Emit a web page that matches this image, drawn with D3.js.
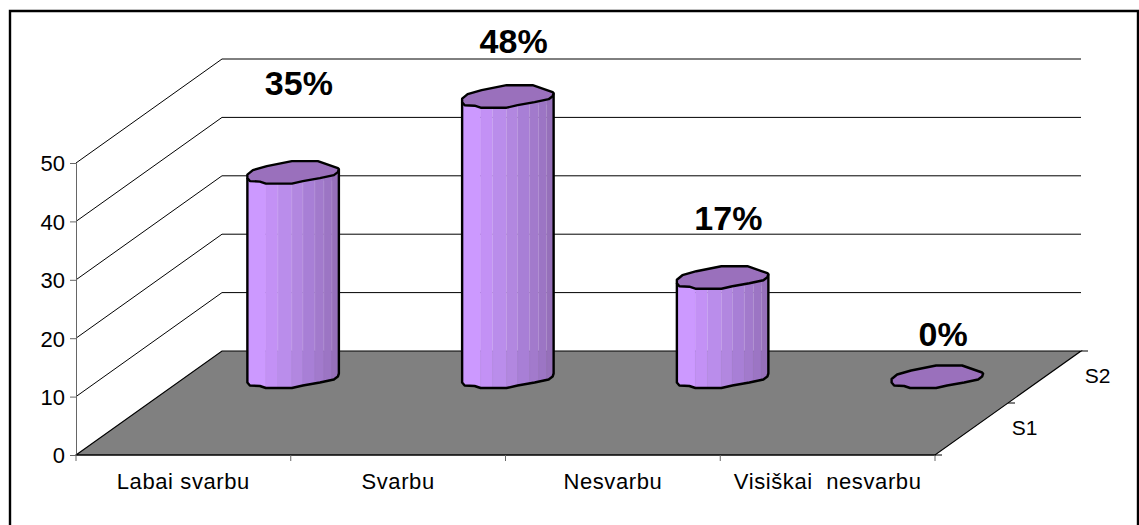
<!DOCTYPE html>
<html><head><meta charset="utf-8">
<script src="https://cdn.jsdelivr.net/npm/d3@7"></script>
<style>html,body{margin:0;padding:0;background:#fff}svg{display:block}text{font-family:"Liberation Sans",Arial,sans-serif;fill:#000}</style>
</head><body><svg id="c" width="1139" height="525"></svg>
<script>
const categories = ["Labai svarbu", "Svarbu", "Nesvarbu", "Visiškai  nesvarbu"];
const seriesNames = ["S1", "S2"];
const s2Values = [35, 48, 17, 0];
const percentLabels = ["35%", "48%", "17%", "0%"];
const valueTicks = [0, 10, 20, 30, 40, 50];

const svg = d3.select("#c");
const x0 = 76, x1 = 935, y0 = 455, y50 = 163, dx = 146, dy = -104;
const labelLift = [77.5, 43.5, 48, 31];
const xBand = d3.scaleBand().domain(categories).range([x0, x1]);
const yVal = d3.scaleLinear().domain([0, 50]).range([y0, y50]);
const depth = d3.scaleBand().domain(seriesNames).range([0, 1]);
const px = (x, z) => x + dx * z;
const py = (y, z) => y + dy * z;
const line = d3.line();

// outer frame (open at the bottom)
svg.append("path").attr("d", "M10,525V11H1138V525").attr("fill", "none").attr("stroke", "#000").attr("stroke-width", 2.4);

// gridlines on side and back walls
valueTicks.slice(1).forEach(v => {
  svg.append("path").attr("fill", "none").attr("stroke", "#000").attr("stroke-width", 1)
    .attr("d", line([[x0, yVal(v)], [px(x0, 1), py(yVal(v), 1)], [px(x1, 1), py(yVal(v), 1)]]));
});

// floor
svg.append("path").attr("fill", "#808080").attr("stroke", "#000").attr("stroke-width", 1.2)
  .attr("d", line([[x0, y0], [px(x0, 1), py(y0, 1)], [px(x1, 1), py(y0, 1)], [x1, y0]]) + "Z");

// value axis
const yAxis = svg.append("g").attr("transform", `translate(${x0},0)`)
  .call(d3.axisLeft(yVal).tickValues(valueTicks).tickSize(6).tickPadding(5));
yAxis.selectAll("path,line").attr("stroke", "#666");
yAxis.selectAll("text").attr("font-size", 22).attr("fill", "#000").attr("dy", "0.36em")
  .style("font-family", '"Liberation Sans"');

// category axis
const xAxis = svg.append("g").attr("transform", `translate(0,${y0})`)
  .call(d3.axisBottom(xBand).tickSize(0).tickPadding(18));
xAxis.select("path").attr("stroke", "#000").attr("d", `M${x0},0H${x1}`);
xAxis.selectAll("text").attr("font-size", 22).attr("fill", "#000").attr("letter-spacing", 0.6)
  .style("white-space", "pre").style("font-family", '"Liberation Sans"');
d3.range(categories.length + 1).forEach(i => {
  svg.append("line").attr("x1", x0 + i * xBand.step()).attr("x2", x0 + i * xBand.step())
    .attr("y1", y0).attr("y2", y0 + 6).attr("stroke", "#666");
});

// depth axis
[0, 0.5, 1].forEach(z => {
  svg.append("line").attr("x1", px(x1, z)).attr("x2", px(x1, z) + 7)
    .attr("y1", py(y0, z)).attr("y2", py(y0, z)).attr("stroke", "#000");
});
svg.selectAll("text.depth").data(seriesNames).join("text").attr("class", "depth")
  .attr("x", d => px(x1, depth(d) + depth.bandwidth() / 2) + 53)
  .attr("y", d => py(y0, depth(d) + depth.bandwidth() / 2) + 6)
  .attr("font-size", 21).attr("text-anchor", "middle").text(d => d);

// cylinder outline offsets
const frontEdge = [[-45.5,5.5],[-43,8.5],[-33,9],[-27,11],[-1,11],[10,8.5],[27,5.5],[41,2.5],[45,-0.5],[46,-3.5]];
const backEdge = [[45,-4.5],[25,-11.5],[-1,-11.5],[-26,-6.5],[-40,-2.5],[-45.5,2]];
const facetX = [-45.5,-27,-15,-1,10,22,31,39,46];
const facetFill = ["#cc99ff","#c391f5","#ba8deb","#b287e0","#a87fd6","#a27acc","#9c75c4","#9670ba"];
const frontY = d3.scaleLinear().domain(frontEdge.map(d => d[0])).range(frontEdge.map(d => d[1]));

s2Values.forEach((v, i) => {
  const z = depth("S2") + depth.bandwidth() / 2;
  const cx = px(xBand(categories[i]) + xBand.bandwidth() / 2, z);
  const base = py(yVal(0), z), top = py(yVal(v), z);
  const g = svg.append("g");
  if (v > 0) {
    facetFill.forEach((c, k) => {
      const a = facetX[k], b = facetX[k + 1];
      const xs = [a, ...frontEdge.map(d => d[0]).filter(q => q > a && q < b), b];
      const pts = [
        ...xs.map(q => [cx + q, top + frontY(q)]),
        ...xs.slice().reverse().map(q => [cx + q, base + frontY(q)]),
      ];
      g.append("path").attr("d", line(pts) + "Z").attr("fill", c).attr("stroke", c).attr("stroke-width", 0.4);
      if (k > 1) g.append("line").attr("x1", cx + a).attr("x2", cx + a)
        .attr("y1", top + 8).attr("y2", Math.min(base, py(y0, 1)))
        .attr("stroke", "#fff").attr("stroke-opacity", 0.13);
    });
    g.append("path").attr("fill", "none").attr("stroke", "#000").attr("stroke-width", 2.4).attr("stroke-linejoin", "round")
      .attr("d", line([[cx - 45.5, top + 5.5], ...frontEdge.map(d => [cx + d[0], base + d[1]]), [cx + 46, top - 3.5]]));
  }
  // top cap
  g.append("path").attr("fill", "#9a70bc").attr("stroke", "#000").attr("stroke-width", 2.4).attr("stroke-linejoin", "round")
    .attr("d", line([...frontEdge, ...backEdge].map(d => [cx + d[0], top + d[1]])) + "Z");
  // percentage
  svg.append("text").attr("x", cx + 6).attr("y", top - labelLift[i])
    .attr("text-anchor", "middle").attr("font-size", 34).attr("font-weight", "bold").text(percentLabels[i]);
});
</script></body></html>
